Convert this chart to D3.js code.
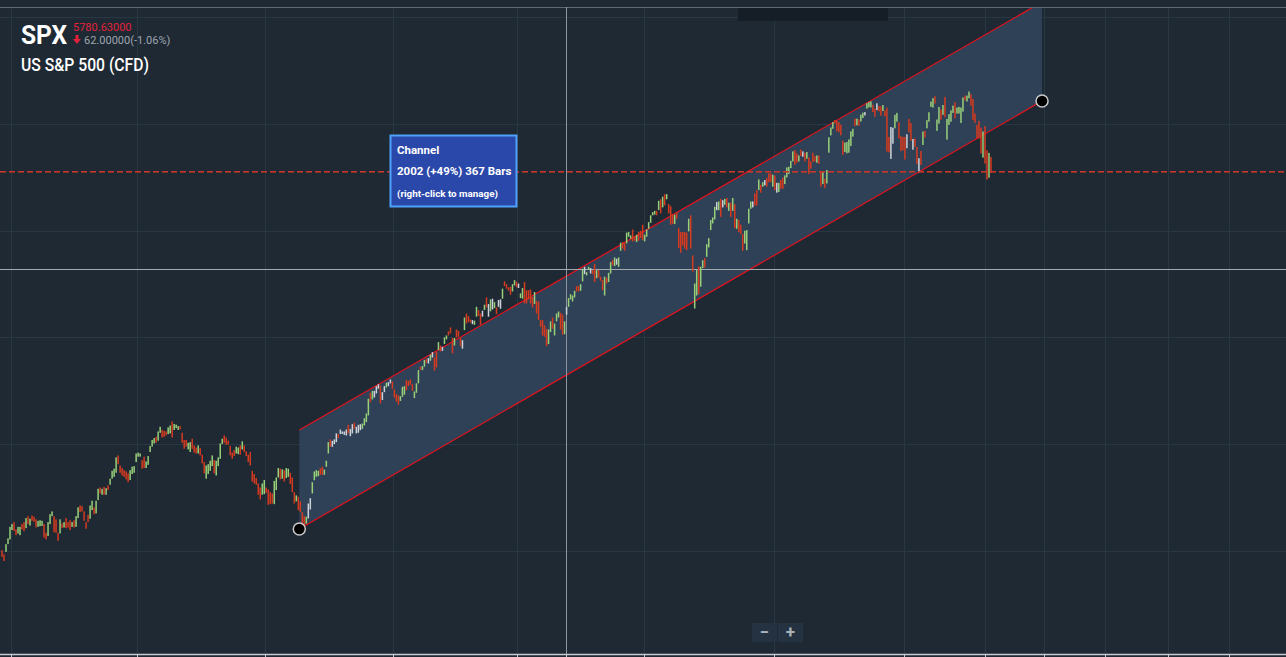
<!DOCTYPE html>
<html lang="en">
<head>
<meta charset="UTF-8" />
<title>SPX channel</title>
<script src="https://d3js.org/d3.v7.min.js"></script>
<style>
  html, body { margin: 0; padding: 0; background: #1e2934; overflow: hidden; }
  svg { display: block; font-family: Roboto, "Noto Sans", sans-serif; }
</style>
</head>
<body>
<div id="chart"></div>
<script>
// ----- Data (daily bars) -----
const highs = [
  4005,3985,4033,4060,4114,4127,4136,4102,4114,4114,
  4127,4136,4155,4164,4152,4167,4161,4149,4142,4145,
  4142,4127,4086,4136,4173,4186,4164,4149,4086,4149,
  4130,4136,4155,4136,4145,4136,4145,4164,4205,4214,
  4211,4186,4136,4170,4214,4236,4205,4236,4292,4298,
  4292,4301,4295,4308,4339,4376,4386,4439,4448,4401,
  4389,4379,4373,4364,4379,4395,4398,4457,4461,4457,
  4426,4442,4420,4445,4492,4520,4529,4535,4560,4582,
  4567,4563,4560,4579,4588,4607,4595,4592,4585,4585,
  4554,4520,4520,4507,4510,4526,4495,4485,4495,4482,
  4451,4417,4401,4407,4423,4448,4426,4423,4439,4504,
  4526,4542,4532,4517,4492,4461,4473,4489,4485,4495,
  4514,4495,4467,4451,4464,4376,4361,4342,4317,4298,
  4317,4333,4298,4289,4276,4270,4329,4345,4389,4386,
  4383,4379,4389,4386,4367,4345,4276,4261,4255,4233,
  4183,4164,4161,4223,4248,4323,4373,4379,4376,4388,
  4395,4382,4423,4510,4523,4516,4523,4551,4548,4569,
  4560,4560,4569,4591,4572,4594,4601,4582,4591,4594,
  4597,4622,4644,4713,4741,4750,4750,4772,4781,4775,
  4744,4772,4788,4791,4803,4794,4757,4735,4728,4725,
  4769,4772,4800,4797,4803,4781,4747,4785,4847,4863,
  4866,4894,4900,4903,4919,4931,4906,4934,4978,4962,
  4956,5000,5009,5028,5047,4997,4997,5037,5031,4997,
  4987,5093,5112,5100,5084,5081,5078,5143,5128,5112,
  5125,5153,5187,5156,5178,5181,5165,5140,5175,5178,
  5228,5262,5249,5234,5237,5249,5268,5262,5252,5206,
  5231,5259,5221,5221,5224,5190,5212,5171,5168,5081,
  5081,5056,5040,5037,5075,5093,5065,5112,5121,5115,
  5106,5075,5143,5184,5202,5196,5218,5240,5240,5249,
  5321,5330,5305,5330,5324,5315,5343,5315,5315,5284,
  5268,5284,5280,5302,5352,5362,5374,5368,5374,5443,
  5446,5440,5490,5493,5477,5505,5474,5480,5493,5499,
  5527,5480,5505,5539,5571,5586,5592,5592,5639,5646,
  5658,5670,5670,5624,5614,5577,5574,5586,5511,5493,
  5493,5493,5490,5555,5571,5383,5252,5315,5333,5330,
  5361,5371,5436,5464,5549,5561,5611,5633,5636,5648,
  5642,5648,5652,5630,5630,5652,5623,5555,5549,5527,
  5483,5499,5502,5602,5636,5636,5673,5689,5739,5714,
  5726,5736,5745,5767,5767,5761,5758,5723,5723,5736,
  5748,5758,5795,5798,5826,5870,5876,5861,5851,5879,
  5870,5864,5867,5842,5823,5864,5848,5851,5851,5776,
  5776,5742,5783,5936,5982,6007,6017,6014,6007,5995,
  5920,5911,5914,5926,5964,5976,6023,6023,6020,6042,
  6051,6054,6095,6101,6104,6088,6070,6095,6082,6081,
  6087,6062,6075,5938,5984,5981,6041,6050,6006,5941,
  5938,5938,5950,6022,6003,5928,5931,5891,5838,5872,
  5963,5966,6016,6053,6103,6119,6128,6019,6078,6066,
  6087,6125,6022,6044,6062,6084,6100,6075,6078,6075,
  6122,6131,6131,6150,6137,6115,6047,5994,6013,5981,
  5963,5988,5875,5863,5844
];
const lows = [
  3974,3954,3997,4033,4055,4099,4095,4075,4083,4075,
  4102,4094,4108,4127,4120,4142,4138,4111,4114,4117,
  4118,4064,4055,4071,4127,4164,4089,4086,4049,4083,
  4108,4111,4108,4111,4099,4114,4111,4114,4155,4183,
  4186,4142,4105,4136,4152,4192,4173,4177,4239,4270,
  4264,4264,4264,4286,4311,4339,4348,4367,4407,4367,
  4354,4348,4336,4323,4333,4361,4367,4417,4442,4442,
  4386,4389,4389,4404,4464,4489,4504,4507,4517,4554,
  4532,4535,4542,4548,4551,4532,4567,4576,4567,4570,
  4507,4479,4489,4476,4464,4479,4461,4457,4457,4448,
  4411,4364,4339,4361,4376,4398,4364,4354,4398,4432,
  4501,4507,4498,4498,4448,4432,4445,4457,4454,4451,
  4476,4464,4445,4417,4401,4326,4317,4311,4264,4242,
  4264,4267,4273,4217,4220,4223,4220,4286,4345,4336,
  4339,4326,4342,4348,4314,4276,4223,4233,4192,4183,
  4130,4106,4129,4153,4195,4270,4332,4348,4351,4357,
  4357,4357,4395,4457,4488,4488,4501,4510,4529,4548,
  4548,4544,4541,4551,4538,4551,4572,4551,4554,4566,
  4572,4588,4604,4635,4697,4710,4719,4738,4760,4691,
  4707,4744,4766,4772,4785,4760,4719,4700,4685,4703,
  4722,4732,4753,4772,4778,4750,4716,4741,4785,4847,
  4847,4863,4881,4878,4891,4906,4844,4860,4941,4934,
  4937,4969,4991,5009,5019,4925,4962,5000,5003,4959,
  4947,5034,5065,5072,5069,5062,5059,5097,5100,5059,
  5097,5128,5140,5097,5122,5131,5137,5109,5143,5134,
  5181,5240,5228,5218,5199,5215,5243,5234,5231,5184,
  5181,5159,5159,5178,5159,5140,5156,5112,5081,5050,
  5009,5003,4959,4969,5025,5040,5009,5075,5093,5037,
  5012,5015,5106,5143,5178,5168,5187,5215,5215,5218,
  5262,5296,5290,5315,5299,5296,5259,5277,5280,5265,
  5221,5196,5252,5259,5299,5337,5333,5340,5330,5405,
  5415,5405,5440,5471,5461,5449,5452,5446,5452,5465,
  5455,5449,5471,5508,5536,5571,5574,5571,5596,5580,
  5608,5617,5646,5580,5527,5530,5530,5555,5418,5396,
  5430,5415,5408,5496,5415,5308,5135,5196,5202,5237,
  5324,5327,5377,5421,5502,5533,5552,5595,5595,5564,
  5608,5620,5608,5592,5564,5592,5511,5508,5492,5483,
  5405,5439,5408,5533,5602,5608,5617,5617,5689,5677,
  5705,5711,5705,5726,5726,5705,5689,5677,5680,5695,
  5695,5717,5748,5764,5792,5823,5808,5817,5823,5848,
  5845,5823,5836,5764,5789,5820,5823,5817,5811,5705,
  5717,5698,5720,5864,5945,5976,6001,5964,5960,5945,
  5854,5867,5861,5864,5895,5939,5989,5992,5989,6010,
  6026,6038,6070,6076,6076,6054,6032,6063,6057,6037,
  6059,6034,5869,5866,5835,5906,5978,6009,5931,5872,
  5875,5832,5885,5959,5919,5878,5891,5810,5772,5807,
  5900,5935,5978,6009,6078,6075,6094,5966,6000,6019,
  6041,6031,5925,5994,6009,6050,6025,6047,6047,6003,
  6056,6109,6103,6119,6084,6016,6003,5931,5931,5860,
  5841,5813,5738,5747,5769
];
// u = up (green), d = down (red), n = neutral (white), ten bars per string
const dirs = [
  "dduuuudduu","ddududdduu","udduuudddu","duddduduud","dddduuduud",
  "ududuuuudd","dddduuuuuu","dduuuuuduu","ddduuduuud","ddduudddud",
  "dduuuuduuu","udddddduud","uddddddddd","uudddduuud","uduudddudd",
  "ddunnuuuud","duuudnnndn","nnndnndnnn","uuuudunnnd","nnunnddddu",
  "uudddduuud","uudnunddud","nuuddduddd","nudddnuudd","nudnunudnn",
  "udddduudnu","uddddduddd","ddduuduuud","dunuuuuddu","unuunddudd",
  "duduudunuu","dduuuddudd","duuuuuudud","ududdduddd","dddudduudu",
  "uduuuuunud","nududududd","duuuunddud","undddudnud","duuuuuddud",
  "nduddddudd","uduuuudddd","duuuuududu","unuuuddndd","udddnnuudd",
  "ddnddnddnd","uduuuuduud","uduuuuduuu","uduudddddd","uddud"
].join("").split("");

// channel tool: start/end in bar units, prices, parallel width (points)
const channelFrom = { bar: 148.5, price: 4103.8 };
const channelTo = { bar: 519.5, price: 6105.8 };
const channelWidth = 463;
const channelLabel = ["Channel", "2002 (+49%) 367 Bars", "(right-click to manage)"];

const lastPrice = 5780.63;
const crosshair = { bar: 281.7, price: 5320 };
const priceTicks = [4000, 4500, 5000, 5500, 6000, 6500];
const timeTicks = [4.5, 67.4, 131.4, 195.3, 257.2, 320.7, 385.6, 450.5, 491, 520.5, 551, 582.4, 612.9];

// ----- Setup -----
const W = 1286, H = 657;
const plotTop = 7, plotBottom = 654;

const svg = d3.select('#chart').append('svg')
  .attr('width', W).attr('height', H);

svg.append('rect').attr('width', W).attr('height', H).attr('fill', '#1e2934');

const x = d3.scaleLinear().domain([0, highs.length - 1]).range([2, 991]);
const y = d3.scaleLinear().domain([4000, 6500]).range([551.2, 16.7]);

svg.append('clipPath').attr('id', 'plot')
  .append('rect').attr('x', 0).attr('y', plotTop + 1).attr('width', W).attr('height', plotBottom - plotTop - 1);

// grid
const grid = svg.append('g').attr('stroke', '#283744').attr('stroke-width', 1);
priceTicks.forEach(p => {
  grid.append('line').attr('x1', 0).attr('x2', W)
    .attr('y1', Math.round(y(p)) + 0.5).attr('y2', Math.round(y(p)) + 0.5);
});
timeTicks.forEach(t => {
  grid.append('line').attr('y1', plotTop).attr('y2', plotBottom)
    .attr('x1', Math.round(x(t)) + 0.5).attr('x2', Math.round(x(t)) + 0.5);
});

// top frame and small header box
svg.append('line').attr('x1', 0).attr('x2', W).attr('y1', plotTop + 0.5).attr('y2', plotTop + 0.5)
  .attr('stroke', '#5d6872');
svg.append('rect').attr('x', 738).attr('y', plotTop + 1).attr('width', 150).attr('height', 13)
  .attr('fill', '#151e27');

// channel fill
const chan = svg.append('g').attr('clip-path', 'url(#plot)');
const x0 = x(channelFrom.bar), x1 = x(channelTo.bar);
const lo0 = y(channelFrom.price), lo1 = y(channelTo.price);
const hi0 = y(channelFrom.price + channelWidth), hi1 = y(channelTo.price + channelWidth);
chan.append('path')
  .attr('d', `M${x0},${lo0}L${x1},${lo1}L${x1},${hi1}L${x0},${hi0}Z`)
  .attr('fill', '#30425a').attr('opacity', 0.95);

// crosshair
svg.append('line').attr('x1', Math.round(x(crosshair.bar)) + 0.5).attr('x2', Math.round(x(crosshair.bar)) + 0.5)
  .attr('y1', plotTop).attr('y2', plotBottom).attr('stroke', '#8e979f');
svg.append('line').attr('x1', 0).attr('x2', W)
  .attr('y1', Math.round(y(crosshair.price)) + 0.5).attr('y2', Math.round(y(crosshair.price)) + 0.5)
  .attr('stroke', '#a3a9ae');

// bars
const colors = { u: '#98cf79', d: '#d63a1f', n: '#cdd3d9' };
svg.append('g').selectAll('rect')
  .data(highs.map((h, i) => ({ i, h, l: lows[i], c: dirs[i] || 'u' })))
  .join('rect')
  .attr('x', d => x(d.i) - 0.75)
  .attr('width', 1.5)
  .attr('y', d => y(d.h))
  .attr('height', d => Math.max(1, y(d.l) - y(d.h)))
  .attr('fill', d => colors[d.c]);

// last price dashed line, drawn as dash rects so it stays crisp red
const dashY = Math.round(y(lastPrice));
svg.append('g').selectAll('rect')
  .data(d3.range(0, W, 9))
  .join('rect')
  .attr('x', d => d).attr('y', dashY).attr('width', 6).attr('height', 1.6)
  .attr('fill', '#c9372a');

// channel lines
chan.append('line').attr('x1', x0).attr('y1', lo0).attr('x2', x1).attr('y2', lo1)
  .attr('stroke', '#e5121c').attr('stroke-width', 1.2);
chan.append('line').attr('x1', x0).attr('y1', hi0).attr('x2', x1).attr('y2', hi1)
  .attr('stroke', '#e5121c').attr('stroke-width', 1.2);

[[x0, lo0], [x1, lo1]].forEach(([cx, cy]) => {
  svg.append('circle').attr('cx', cx).attr('cy', cy).attr('r', 6)
    .attr('fill', '#000').attr('stroke', '#c9c9c9').attr('stroke-width', 1.5);
});

// channel label box
const lb = svg.append('g').attr('transform', 'translate(390,135)');
lb.append('rect').attr('x', 0.5).attr('y', 0.5).attr('width', 126).attr('height', 71)
  .attr('fill', '#2a48aa').attr('stroke', '#4fa2fb').attr('stroke-width', 2);
lb.append('text').attr('x', 7).attr('y', 19).attr('fill', '#fff').attr('font-weight', 700)
  .attr('font-size', 11.5).text(channelLabel[0]);
lb.append('text').attr('x', 7).attr('y', 40).attr('fill', '#fff').attr('font-weight', 700)
  .attr('font-size', 11.5).text(channelLabel[1]);
lb.append('text').attr('x', 7).attr('y', 62).attr('fill', '#fff').attr('font-weight', 700)
  .attr('font-size', 9.8).text(channelLabel[2]);

// bottom axis
svg.append('line').attr('x1', 0).attr('x2', W).attr('y1', plotBottom + 0.5).attr('y2', plotBottom + 0.5)
  .attr('stroke', '#c8ccd0').attr('stroke-width', 1.5);
timeTicks.concat([crosshair.bar]).forEach(t => {
  svg.append('line').attr('x1', Math.round(x(t)) + 0.5).attr('x2', Math.round(x(t)) + 0.5)
    .attr('y1', plotBottom).attr('y2', H).attr('stroke', '#c8ccd0');
});

// zoom buttons
const zb = svg.append('g').attr('transform', 'translate(752,623)');
zb.append('rect').attr('width', 51).attr('height', 19).attr('fill', '#243241');
zb.append('line').attr('x1', 25.5).attr('x2', 25.5).attr('y1', 0).attr('y2', 19).attr('stroke', '#1e2934');
zb.append('text').attr('x', 12.5).attr('y', 15).attr('text-anchor', 'middle')
  .attr('fill', '#a9b1b9').attr('font-size', 17).attr('font-weight', 700).text('−');
zb.append('text').attr('x', 38.5).attr('y', 15).attr('text-anchor', 'middle')
  .attr('fill', '#a9b1b9').attr('font-size', 17).attr('font-weight', 700).text('+');

// header
svg.append('text').attr('x', 21).attr('y', 44).attr('fill', '#fff').attr('font-weight', 700)
  .attr('font-size', 26).attr('textLength', 46).attr('lengthAdjust', 'spacingAndGlyphs').text('SPX');
svg.append('text').attr('x', 73).attr('y', 31).attr('fill', '#e3213a').attr('font-size', 11)
  .text(lastPrice.toFixed(5));
svg.append('path').attr('d', 'M75.5,35 h3 v4 h2.5 l-4,5 l-4,-5 h2.5 z').attr('fill', '#e3213a');
svg.append('text').attr('x', 84).attr('y', 44).attr('fill', '#9ea6ae').attr('font-size', 11)
  .text('62.00000(-1.06%)');
svg.append('text').attr('x', 21).attr('y', 71).attr('fill', '#fff').attr('font-weight', 500)
  .attr('font-size', 18).attr('textLength', 128).attr('lengthAdjust', 'spacingAndGlyphs')
  .text('US S&P 500 (CFD)');
</script>
</body>
</html>
